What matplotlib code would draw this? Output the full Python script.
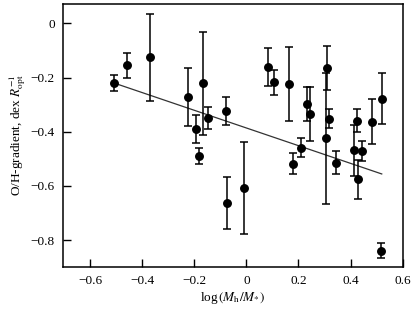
import matplotlib.pyplot as plt

# log(Mh/M*), O/H gradient and its error
x = [-0.51, -0.458, -0.372, -0.223, -0.169, -0.194, -0.149, -0.183, -0.08,
     -0.073, -0.009, 0.179, 0.083, 0.104, 0.164, 0.233, 0.245, 0.311,
     0.306, 0.318, 0.425, 0.482, 0.52, 0.21, 0.345, 0.414, 0.446, 0.427, 0.517]
y = [-0.221, -0.155, -0.125, -0.271, -0.221, -0.39, -0.35, -0.489, -0.324,
     -0.664, -0.607, -0.518, -0.16, -0.218, -0.224, -0.298, -0.335, -0.164,
     -0.424, -0.352, -0.359, -0.363, -0.278, -0.46, -0.514, -0.469, -0.471, -0.576, -0.839]
yerr = [0.03, 0.045, 0.16, 0.107, 0.19, 0.05, 0.04, 0.03, 0.053,
        0.095, 0.17, 0.04, 0.07, 0.047, 0.135, 0.064, 0.1, 0.082,
        0.242, 0.034, 0.041, 0.083, 0.094, 0.035, 0.042, 0.095, 0.036, 0.072, 0.028]

# regression line end points
fit_x = [-0.51, 0.52]
fit_y = [-0.22, -0.556]

xticks = [-0.6, -0.4, -0.2, 0, 0.2, 0.4, 0.6]
yticks = [0, -0.2, -0.4, -0.6, -0.8]

plt.rcParams['font.family'] = 'Liberation Serif'
plt.rcParams['mathtext.fontset'] = 'stix'

fig = plt.figure(figsize=(4.15, 3.14), dpi=100)
ax = fig.add_axes([0.152, 0.151, 0.818, 0.835])

ax.plot(fit_x, fit_y, color='#333333', lw=0.9)
ax.errorbar(x, y, yerr=yerr, fmt='o', color='black', ms=5.4, elinewidth=1.1,
            capsize=2.6, capthick=1.1)

ax.set_xlim(-0.705, 0.6)
ax.set_ylim(-0.898, 0.07)
ax.set_xticks(xticks)
ax.set_yticks(yticks)
ax.set_xticklabels(['\u22120.6', '\u22120.4', '\u22120.2', '0', '0.2', '0.4', '0.6'])
ax.set_yticklabels(['0', '\u22120.2', '\u22120.4', '\u22120.6', '\u22120.8'])
ax.tick_params(direction='in', length=6, width=1, labelsize=9.5, pad=6)
for s in ax.spines.values():
    s.set_linewidth(1.1)

ax.set_xlabel(r'log$\,(M_\mathrm{h}/M_{*})$', fontsize=9.5, labelpad=2)
ax.set_ylabel(r'O/H-gradient, dex $R_\mathrm{opt}^{-1}$', fontsize=9.5, labelpad=2)

fig.savefig('out.png', dpi=100)
